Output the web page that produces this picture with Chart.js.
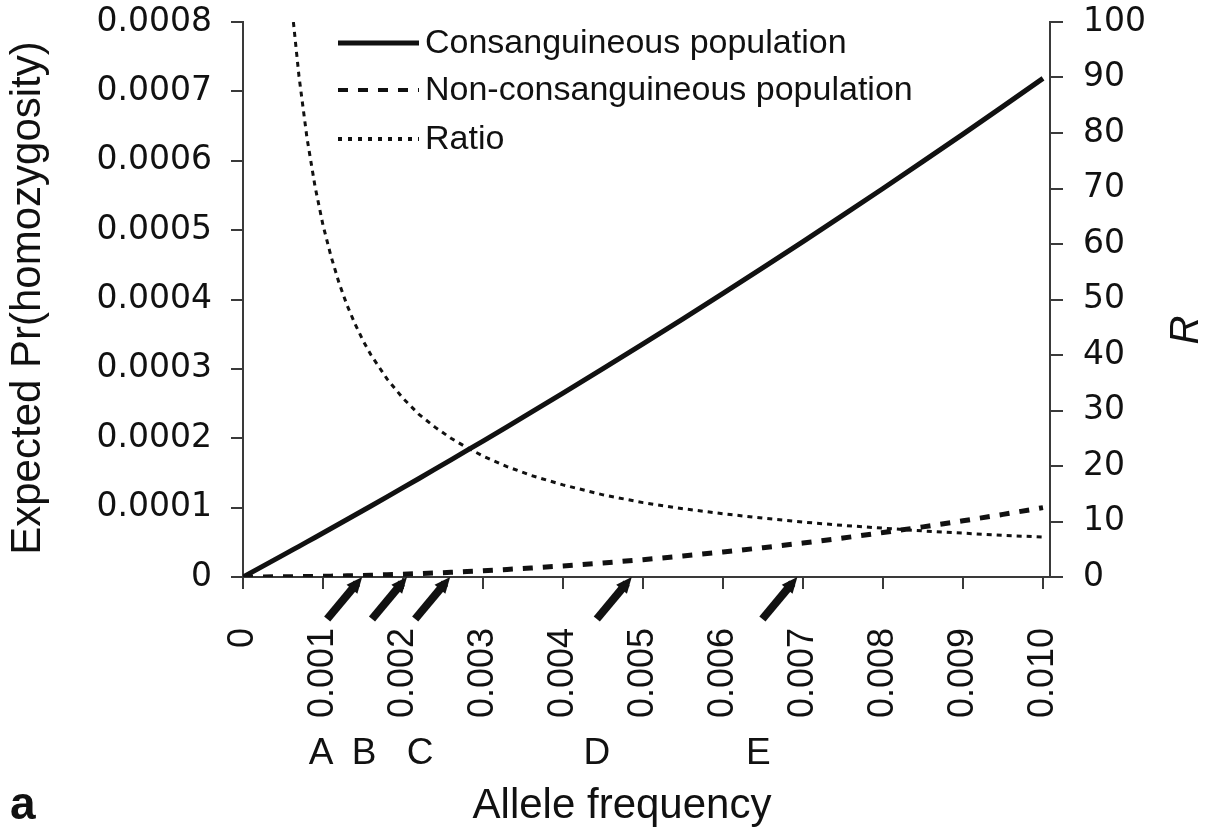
<!DOCTYPE html>
<html><head><meta charset="utf-8">
<script src="https://cdn.jsdelivr.net/npm/chart.js@4.4.0/dist/chart.umd.min.js"></script>
<style>html,body{margin:0;padding:0;background:#fff}#wrap{width:1209px;height:834px;position:relative}</style>
</head><body><div id="wrap"><canvas id="c"></canvas></div>
<script>
// ---- data ----
const alleleFreq = [0, 0.0005, 0.00063, 0.0007, 0.0008, 0.0009, 0.001, 0.0011, 0.0012, 0.0013, 0.0014, 0.0015, 0.0016, 0.0018, 0.002, 0.0022, 0.0024, 0.0026, 0.0028, 0.003, 0.0033, 0.0036, 0.004, 0.0045, 0.005, 0.0055, 0.006, 0.0065, 0.007, 0.0075, 0.008, 0.0085, 0.009, 0.0095, 0.010];
const consanguineous = [0, 0.0000315, 0.0000398, 0.0000442, 0.0000506, 0.0000570, 0.0000634, 0.0000699, 0.0000764, 0.0000828, 0.0000893, 0.0000959, 0.0001024, 0.0001155, 0.0001288, 0.0001420, 0.0001554, 0.0001688, 0.0001824, 0.0001959, 0.0002165, 0.0002372, 0.000265, 0.0003002, 0.0003359, 0.0003721, 0.0004088, 0.0004459, 0.0004834, 0.0005215, 0.00056, 0.000599, 0.0006384, 0.0006784, 0.0007188];
const nonConsanguineous = [0, 0.00000025, 0.0000004, 0.00000049, 0.00000064, 0.00000081, 0.000001, 0.00000121, 0.00000144, 0.00000169, 0.00000196, 0.00000225, 0.00000256, 0.00000324, 0.000004, 0.00000484, 0.00000576, 0.00000676, 0.00000784, 0.000009, 0.00001089, 0.00001296, 0.000016, 0.00002025, 0.000025, 0.00003025, 0.000036, 0.00004225, 0.000049, 0.00005625, 0.000064, 0.00007225, 0.000081, 0.00009025, 0.0001];
const ratio = [null, null, 100, 90.2, 79.1, 70.4, 63.4, 57.8, 53.0, 49.0, 45.6, 42.6, 40.0, 35.7, 32.2, 29.3, 27.0, 25.0, 23.3, 21.8, 19.9, 18.3, 16.6, 14.8, 13.4, 12.3, 11.4, 10.6, 9.9, 9.3, 8.8, 8.3, 7.9, 7.5, 7.2];

const xTickValues = [0, 0.001, 0.002, 0.003, 0.004, 0.005, 0.006, 0.007, 0.008, 0.009, 0.010];
const xTickLabels = ['0', '0.001', '0.002', '0.003', '0.004', '0.005', '0.006', '0.007', '0.008', '0.009', '0.010'];
const yLeftTickValues = [0, 0.0001, 0.0002, 0.0003, 0.0004, 0.0005, 0.0006, 0.0007, 0.0008];
const yLeftTickLabels = ['0', '0.0001', '0.0002', '0.0003', '0.0004', '0.0005', '0.0006', '0.0007', '0.0008'];
const yRightTickValues = [0, 10, 20, 30, 40, 50, 60, 70, 80, 90, 100];
const yRightTickLabels = ['0', '10', '20', '30', '40', '50', '60', '70', '80', '90', '100'];

const arrowFreqs = [0.00149, 0.00205, 0.00259, 0.00486, 0.00693];
const arrowLabels = ['A', 'B', 'C', 'D', 'E'];
const seriesNames = ['Consanguineous population', 'Non-consanguineous population', 'Ratio'];
const xTitle = 'Allele frequency';
const yLeftTitle = 'Expected Pr(homozygosity)';
const yRightTitle = 'R';
const panelLabel = 'a';

// ---- drawing ----
const INK = '#111';
const AXIS = '#3a3a3a';
const pts = (ys) => alleleFreq.map((x, i) => ({x: x, y: ys[i]}));

const styles = [
  {dash: [], width: 5},
  {dash: [10, 10], width: 5},
  {dash: [5, 5], width: 3}
];
const labelShift = [-6, -8, 5, 0, -4];

const decor = {
  id: 'decor',
  afterDraw(chart) {
    const ctx = chart.ctx;
    const xs = chart.scales.x;
    const ca = chart.chartArea;
    ctx.save();
    ctx.fillStyle = INK;
    ctx.strokeStyle = INK;
    // legend
    ctx.font = '34px "Liberation Sans"';
    ctx.textBaseline = 'middle';
    ctx.textAlign = 'left';
    const rows = [43, 90, 139];
    seriesNames.forEach((name, i) => {
      ctx.beginPath();
      ctx.setLineDash(i === 2 ? [4, 6] : (i === 1 ? [10, 10] : []));
      ctx.lineWidth = i === 0 ? 5 : 4;
      ctx.moveTo(338, rows[i]);
      ctx.lineTo(419, rows[i]);
      ctx.stroke();
      ctx.setLineDash([]);
      ctx.fillText(name, 425, rows[i] + 1);
    });
    // arrows and letters
    ctx.font = '37px "Liberation Sans"';
    ctx.textAlign = 'center';
    arrowFreqs.forEach((f, i) => {
      const tx = xs.getPixelForValue(f);
      const ty = ca.bottom;
      const bx = tx - 35, by = ty + 42;
      const ang = Math.atan2(ty - by, tx - bx);
      ctx.beginPath();
      ctx.lineWidth = 8;
      ctx.lineCap = 'butt';
      ctx.moveTo(bx, by);
      ctx.lineTo(tx - 8 * Math.cos(ang), ty - 8 * Math.sin(ang));
      ctx.stroke();
      ctx.beginPath();
      ctx.moveTo(tx, ty);
      const hl = 16, hw = 7;
      const px = tx - hl * Math.cos(ang), py = ty - hl * Math.sin(ang);
      ctx.lineTo(px + hw * Math.sin(ang), py - hw * Math.cos(ang));
      ctx.lineTo(px - hw * Math.sin(ang), py + hw * Math.cos(ang));
      ctx.closePath();
      ctx.fill();
      ctx.fillText(arrowLabels[i], bx + labelShift[i], 754);
    });
    // axis titles
    ctx.font = '42px "Liberation Sans"';
    ctx.textAlign = 'center';
    ctx.textBaseline = 'middle';
    ctx.fillText(xTitle, 622, 806);
    ctx.save();
    ctx.translate(28, 298);
    ctx.rotate(-Math.PI / 2);
    ctx.fillText(yLeftTitle, 0, 0);
    ctx.restore();
    ctx.save();
    ctx.font = 'italic 40px "Liberation Sans"';
    ctx.translate(1187, 330);
    ctx.rotate(-Math.PI / 2);
    ctx.fillText(yRightTitle, 0, 0);
    ctx.restore();
    // panel label
    ctx.font = 'bold 46px "Liberation Sans"';
    ctx.textAlign = 'left';
    ctx.textBaseline = 'alphabetic';
    ctx.fillText(panelLabel, 10, 819);
    ctx.restore();
  }
};

Chart.defaults.font.family = '"Liberation Sans", Arial, sans-serif';
Chart.defaults.color = INK;

function fixV(w) {
  return function (s) { s.width = w; s.paddingTop = 0; s.paddingBottom = 0; };
}

new Chart(document.getElementById('c'), {
  type: 'line',
  data: {
    datasets: [
      {label: seriesNames[0], data: pts(consanguineous), yAxisID: 'y', borderColor: INK, borderWidth: styles[0].width, borderDash: styles[0].dash, pointRadius: 0, fill: false},
      {label: seriesNames[1], data: pts(nonConsanguineous), yAxisID: 'y', borderColor: INK, borderWidth: styles[1].width, borderDash: styles[1].dash, pointRadius: 0, fill: false},
      {label: seriesNames[2], data: pts(ratio), yAxisID: 'y2', borderColor: INK, borderWidth: styles[2].width, borderDash: styles[2].dash, pointRadius: 0, fill: false}
    ]
  },
  options: {
    responsive: true,
    maintainAspectRatio: false,
    animation: false,
    devicePixelRatio: 1,
    layout: {padding: {top: 22, left: 0, right: 0, bottom: 0}},
    plugins: {legend: {display: false}, tooltip: {enabled: false}, title: {display: false}},
    scales: {
      x: {
        type: 'linear', position: 'bottom', min: 0, max: 0.0100875,
        afterFit(s) { s.height = 257; s.paddingLeft = 0; s.paddingRight = 0; },
        afterBuildTicks(s) { s.ticks = xTickValues.map(v => ({value: v})); },
        ticks: {
          autoSkip: false, minRotation: 90, maxRotation: 90, padding: 39,
          font: {size: 36, family: '"Liberation Sans"'}, color: INK,
          callback: (v, i) => xTickLabels[i]
        },
        grid: {drawOnChartArea: false, drawTicks: true, tickLength: 12, color: AXIS, lineWidth: 2},
        border: {display: true, color: AXIS, width: 2}
      },
      y: {
        type: 'linear', position: 'left', min: 0, max: 0.0008,
        afterFit: fixV(243),
        afterBuildTicks(s) { s.ticks = yLeftTickValues.map(v => ({value: v})); },
        ticks: {
          padding: 19, font: {size: 33, family: '"DejaVu Sans"'}, color: INK,
          callback: (v, i) => yLeftTickLabels[i]
        },
        grid: {drawOnChartArea: false, drawTicks: true, tickLength: 12, color: AXIS, lineWidth: 2},
        border: {display: true, color: AXIS, width: 2}
      },
      y2: {
        type: 'linear', position: 'right', min: 0, max: 100,
        afterFit: fixV(159),
        afterBuildTicks(s) { s.ticks = yRightTickValues.map(v => ({value: v})); },
        ticks: {
          padding: 20, font: {size: 33, family: '"DejaVu Sans"'}, color: INK,
          callback: (v, i) => yRightTickLabels[i]
        },
        grid: {drawOnChartArea: false, drawTicks: true, tickLength: 13, color: AXIS, lineWidth: 2},
        border: {display: true, color: AXIS, width: 2}
      }
    }
  },
  plugins: [decor]
});
</script></body></html>
